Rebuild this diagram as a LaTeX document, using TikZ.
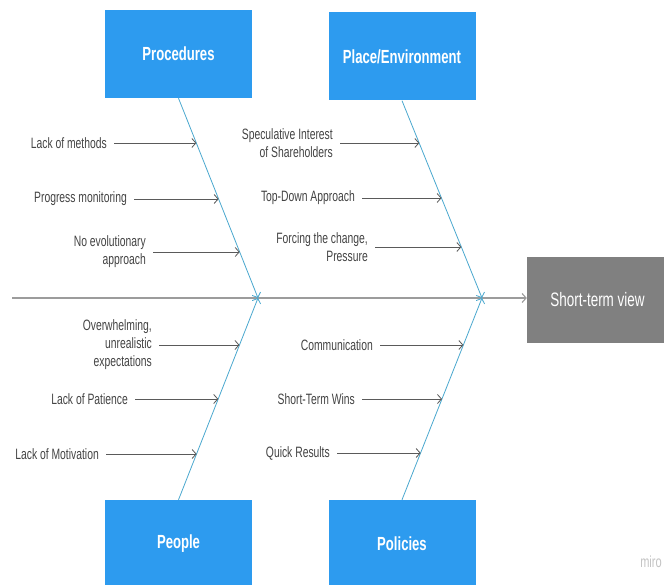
\documentclass[tikz,border=0pt]{standalone}
\usepackage{fontspec}
\setmainfont{Liberation Sans}
\newfontfamily\narrowsans[FakeStretch=0.69]{Liberation Sans}
\usetikzlibrary{arrows.meta,calc}

\definecolor{causeblue}{HTML}{2D9BEF}
\definecolor{bonecyan}{HTML}{4AA8CF}
\definecolor{effectgray}{HTML}{808080}
\definecolor{labelgray}{HTML}{444444}
\definecolor{arrowgray}{HTML}{5A5A5A}
\definecolor{spinegray}{HTML}{9C9C9C}
\definecolor{markgray}{HTML}{C4C4C4}

\begin{document}
\begin{tikzpicture}[x=1pt,y=-1pt,
  cause/.style={fill=causeblue, draw=none, minimum width=147pt, minimum height=88pt,
    inner sep=0pt, text=white, font=\narrowsans\bfseries\fontsize{19}{22}\selectfont},
  effect/.style={fill=effectgray, draw=none, minimum width=141pt, minimum height=86pt,
    inner sep=0pt, text=white, font=\narrowsans\fontsize{19.5}{22}\selectfont},
  reason/.style={text=labelgray, font=\narrowsans\fontsize{15}{18}\selectfont,
    align=right, inner sep=0pt, anchor=east},
  branch/.style={draw=arrowgray, line width=0.8pt, shorten <=7pt,
    -{Straight Barb[length=4pt,width=9pt]}},
  bone/.style={draw=bonecyan, line width=0.8pt,
    -{Straight Barb[length=4pt,width=9pt]}},
  spine/.style={draw=spinegray, line width=1.1pt}]

\fill[white] (0,0) rectangle (664,585);
\useasboundingbox (0,0) rectangle (664,585);

% category boxes and effect
\node[cause] (proc)  at (178.5,54)  {Procedures};
\node[cause] (place) at (402,56.5)  {Place/Environment};
\node[cause] (people) at (178.5,544) {People};
\node[cause] (pol)   at (402,544)   {Policies};
\node[effect] (eff)  at (597.5,300) {Short-term view};

% spine and junctions
\coordinate (tail) at (12,298);
\coordinate (jL) at (258,298);
\coordinate (jR) at (482,298);
\draw[spine, -{Straight Barb[length=4pt,width=9pt]}] (tail) -- (eff.west |- tail);

% bones
\draw[bone] (proc.south) -- (jL);
\draw[bone] (place.south) -- (jR);
\draw[bone] (people.north) -- (jL);
\draw[bone] (pol.north) -- (jR);

% points on the bones where the branches end
\coordinate (p1) at ($(proc.south)!0.225!(jL)$);
\coordinate (p2) at ($(proc.south)!0.505!(jL)$);
\coordinate (p3) at ($(proc.south)!0.77!(jL)$);
\coordinate (q1) at ($(place.south)!0.217!(jR)$);
\coordinate (q2) at ($(place.south)!0.495!(jR)$);
\coordinate (q3) at ($(place.south)!0.742!(jR)$);
\coordinate (r1) at ($(jL)!0.233!(people.north)$);
\coordinate (r2) at ($(jL)!0.5!(people.north)$);
\coordinate (r3) at ($(jL)!0.772!(people.north)$);
\coordinate (s1) at ($(jR)!0.233!(pol.north)$);
\coordinate (s2) at ($(jR)!0.5!(pol.north)$);
\coordinate (s3) at ($(jR)!0.767!(pol.north)$);

% Procedures
\node[reason] (a1) at (107,143) {Lack of methods};
\node[reason] (a2) at (127,199) {Progress monitoring};
\node[reason] (a3) at (146,252) {No evolutionary\\approach};
\draw[branch] (a1.east) -- (a1.east -| p1);
\draw[branch] (a2.east) -- (a2.east -| p2);
\draw[branch] (a3.east) -- (a3.east -| p3);

% Place/Environment
\node[reason] (b1) at (333,143) {Speculative Interest\\of Shareholders};
\node[reason] (b2) at (355,198) {Top-Down Approach};
\node[reason] (b3) at (368,247) {Forcing the change,\\Pressure};
\draw[branch] (b1.east) -- (b1.east -| q1);
\draw[branch] (b2.east) -- (b2.east -| q2);
\draw[branch] (b3.east) -- (b3.east -| q3);

% People
\node[reason] (c1) at (152,345) {Overwhelming,\\unrealistic\\expectations};
\node[reason] (c2) at (128,399) {Lack of Patience};
\node[reason] (c3) at (99,454) {Lack of Motivation};
\draw[branch] (c1.east) -- (c1.east -| r1);
\draw[branch] (c2.east) -- (c2.east -| r2);
\draw[branch] (c3.east) -- (c3.east -| r3);

% Policies
\node[reason] (d1) at (373,345) {Communication};
\node[reason] (d2) at (355,399) {Short-Term Wins};
\node[reason] (d3) at (330,453) {Quick Results};
\draw[branch] (d1.east) -- (d1.east -| s1);
\draw[branch] (d2.east) -- (d2.east -| s2);
\draw[branch] (d3.east) -- (d3.east -| s3);

% watermark
\node[text=markgray, font=\narrowsans\fontsize{16}{18}\selectfont, inner sep=0pt] (mark) at (651,562) {miro};
\end{tikzpicture}
\end{document}
